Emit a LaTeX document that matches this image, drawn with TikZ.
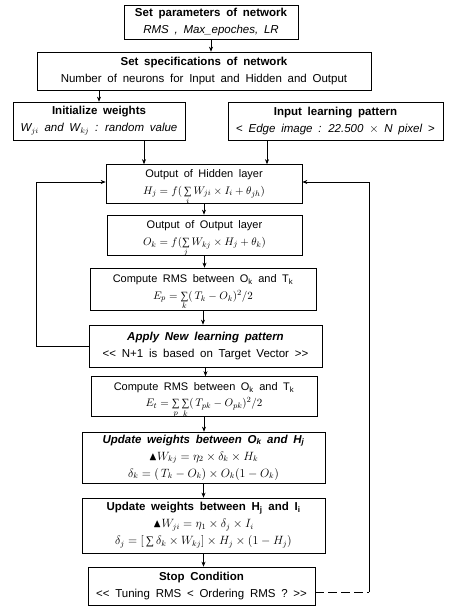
\documentclass[tikz,border=0pt]{standalone}
\usepackage{amsmath}
\usepackage{amssymb}
\usepackage{fontspec}
\setmainfont{Liberation Sans}[WordSpace=1.8]
\newfontfamily\sumfont{Liberation Serif}
\newcommand{\Sm}{\mathop{\text{\sumfont ∑}}\limits}
\newcommand{\fl}[1]{$\smash[b]{#1}$\rule[-4pt]{0pt}{4pt}}
\usetikzlibrary{arrows.meta}
\begin{document}
\begin{tikzpicture}[x=1pt,y=-1pt,
  box/.style={draw, line width=0.7pt, rectangle, align=center, inner sep=0pt,
    font=\fontsize{11.5}{17}\selectfont},
  mbox/.style={box, font=\fontsize{11}{16.5}\selectfont},
  arr/.style={-{Stealth[length=5pt,width=4pt]}, line width=0.6pt},
  loopline/.style={line width=0.6pt}]
\useasboundingbox (0,0) rectangle (448,607);

\node[box, minimum width=174pt, minimum height=34pt] (b1) at (211,22)
  {\textbf{Set parameters of network}\\\textit{RMS , Max\_epoches, LR}};
\node[box, minimum width=334pt, minimum height=38pt] (b2) at (204,71)
  {\textbf{Set specifications of network}\\Number of neurons for Input and Hidden and Output};
\node[box, minimum width=172pt, minimum height=38pt] (b3) at (99,121)
  {\textbf{Initialize weights}\\\textit{W$_{ji}$ and W$_{kj}$ : random value}};
\node[box, minimum width=215pt, minimum height=38pt] (b4) at (335.5,121)
  {\textbf{Input learning pattern}\\< \textit{Edge image : 22.500 $\times$ N pixel} >};
\node[mbox, minimum width=196pt, minimum height=39pt] (b5) at (204,184)
  {Output of Hidden layer\\\fl{H_j = f(\,\Sm_i W_{ji} \times I_i + \theta_{jh})}};
\node[mbox, minimum width=195pt, minimum height=40pt] (b6) at (204.5,235)
  {Output of Output layer\\\fl{O_k = f(\Sm_j W_{kj} \times H_j + \theta_k)}};
\node[mbox, minimum width=226pt, minimum height=42pt] (b7) at (203,289)
  {Compute RMS between O\textsubscript{k} and T\textsubscript{k}\\\fl{E_p = \Sm_k (\,T_k - O_k)^2/2}};
\node[box, minimum width=233pt, minimum height=42pt] (b8) at (205.5,346)
  {\textbf{\textit{Apply New learning pattern}}\\{<}{<} N+1 is based on Target Vector {>}{>}};
\node[mbox, minimum width=226pt, minimum height=40pt] (b9) at (204,396.5)
  {Compute RMS between O\textsubscript{k} and T\textsubscript{k}\\\fl{E_t = \Sm_p\Sm_k (\,T_{pk} - O_{pk})^2/2}};
\node[box, minimum width=243pt, minimum height=51pt] (b10) at (203.5,457.5)
  {\textbf{\textit{Update weights between O\textsubscript{k} and H\textsubscript{j}}}\\
   $\blacktriangle W_{kj} = \eta_2 \times \delta_k \times H_k$\\
   $\delta_k = (\,T_k - O_k) \times O_k(1 - O_k)$};
\node[box, minimum width=243pt, minimum height=55pt] (b11) at (203.5,525.5)
  {\textbf{Update weights between H\textsubscript{j} and I\textsubscript{i}}\\
   $\blacktriangle W_{ji} = \eta_1 \times \delta_j \times I_i$\\
   $\delta_j = [\,\Sm \delta_k \times W_{kj}] \times H_j \times (1 - H_j)$};
\node[box, minimum width=227pt, minimum height=38pt] (b12) at (201.5,586)
  {\textbf{Stop Condition}\\{<}{<} Tuning RMS {<} Ordering RMS ? {>}{>}};

% main arrows
\draw[arr] (b1.south) -- (b1.south |- b2.north);
\draw[arr] (b3.north |- b2.south) -- (b3.north);
\draw[arr] ([xshift=45pt]b3.south) -- ([xshift=45pt]b3.south |- b5.north);
\draw[arr] ([xshift=-68.5pt]b4.south) -- ([xshift=-68.5pt]b4.south |- b5.north);
\draw[arr] (b5.south) -- (b5.south |- b6.north);
\draw[arr] (b6.south) -- (b6.south |- b7.north);
\draw[arr] (b7.south) -- (b7.south |- b8.north);
\draw[arr] (b8.south) -- (b8.south |- b9.north);
\draw[arr] (b9.south) -- (b9.south |- b10.north);
\draw[arr] (b10.south) -- (b10.south |- b11.north);
\draw[arr] (b11.south) -- (b11.south |- b12.north);

% feedback loops
\coordinate (L) at (36,346);
\draw[arr] (b8.west) -- (L) |- ([yshift=2pt]b5.west);
\coordinate (R) at (369,592);
\draw[loopline, dash pattern=on 9pt off 4pt] ([yshift=-6pt]b12.east) -- (R);
\draw[arr] (R) |- ([yshift=2pt]b5.east);
\end{tikzpicture}
\end{document}
